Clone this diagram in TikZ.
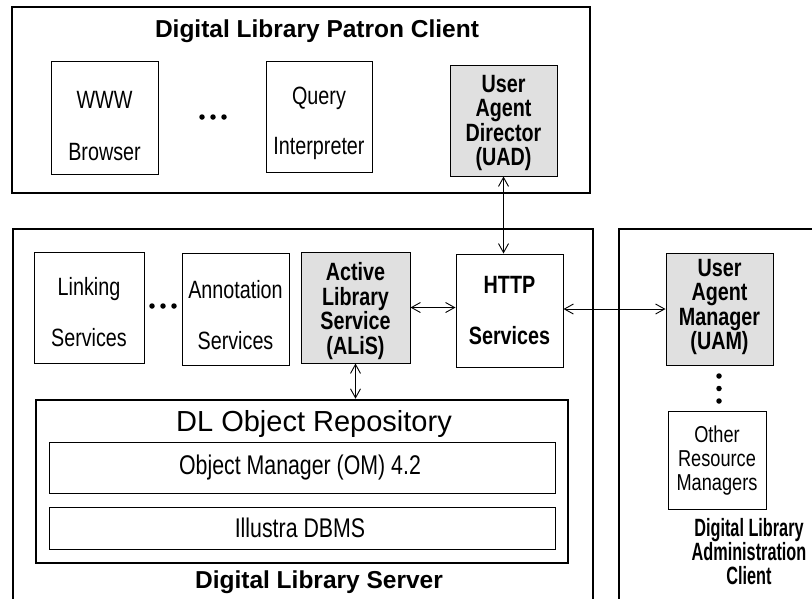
\documentclass[tikz,border=0pt]{standalone}
\usepackage{fontspec}
\setmainfont{Liberation Sans}
\newfontfamily\labfont[FakeStretch=0.79]{Liberation Sans}
\newfontfamily\admfont[FakeStretch=0.65]{Liberation Sans}
\usetikzlibrary{arrows.meta}
\definecolor{boxgray}{gray}{0.88}
\begin{document}
\begin{tikzpicture}[x=1pt,y=-1pt,
  outer/.style={draw, line width=2.6pt, inner sep=0pt},
  box/.style={draw, line width=1pt, inner sep=0pt},
  gbox/.style={box, fill=boxgray},
  txt/.style={inner sep=0pt, align=center, font=\labfont\fontsize{25}{24.5}\selectfont},
  txtb/.style={inner sep=0pt, align=center, font=\labfont\bfseries\fontsize{25}{24.5}\selectfont},
  title/.style={inner sep=0pt, font=\bfseries\fontsize{24.5}{26}\selectfont},
  dot/.style={circle, fill=black, inner sep=0pt, minimum size=5.5pt},
  link/.style={line width=0.9pt, {Straight Barb[length=9pt,width=10pt]}-{Straight Barb[length=9pt,width=10pt]}}
]
\useasboundingbox (0,0) rectangle (812,598);

% outer frames
\node[outer, minimum width=578pt, minimum height=186pt] (patron) at (301,100) {};
\node[outer, minimum width=580pt, minimum height=375pt] (server) at (303,416.5) {};
\node[outer, minimum width=196pt, minimum height=375pt] (admin) at (717,416.5) {};

% patron client
\node[title, anchor=base] (ptitle) at (317,37) {Digital Library Patron Client};
\node[box, minimum width=107pt, minimum height=113pt] (www) at (104.5,117.5) {};
\node[txt] (wwwt) at (104.5,126) {WWW\\[27pt]Browser};
\node[box, minimum width=106pt, minimum height=111pt] (query) at (319,116.5) {};
\node[txt] (queryt) at (319,123.5) {Query\\[26pt]Interpreter};
\node[gbox, minimum width=107pt, minimum height=111pt] (uad) at (503.5,120.5) {};
\node[txtb] (uadt) at (503.5,123) {User\\Agent\\Director\\(UAD)};
\node[dot] (pd1) at (202,117) {};
\node[dot] (pd2) at (213,117) {};
\node[dot] (pd3) at (224,117) {};

% server
\node[box, minimum width=110pt, minimum height=111pt] (linking) at (89,307.5) {};
\node[txt] (linkingt) at (89,312) {Linking\\[26pt]Services};
\node[box, minimum width=107pt, minimum height=112pt] (annot) at (235.5,309) {};
\node[txt] (annott) at (235.5,315) {Annotation\\[26pt]Services};
\node[gbox, minimum width=109pt, minimum height=111pt] (alis) at (355.5,307.5) {};
\node[txtb] (alist) at (355.5,311) {Active\\Library\\Service\\(ALiS)};
\node[box, minimum width=107pt, minimum height=113pt] (http) at (509.5,310.5) {};
\node[txtb] (httpt) at (509.5,310.5) {HTTP\\[26pt]Services};
\node[dot] (sd1) at (152,306) {};
\node[dot] (sd2) at (163,306) {};
\node[dot] (sd3) at (174,306) {};

\node[outer, minimum width=532pt, minimum height=163pt] (repo) at (302,481.5) {};
\node[anchor=base, inner sep=0pt, font=\fontsize{29}{30}\selectfont] (repotitle) at (314,431) {DL Object Repository};
\node[box, minimum width=506pt, minimum height=51pt] (om) at (302,467.5) {};
\node[txt, font=\labfont\fontsize{27}{27}\selectfont] (omt) at (300,467.5) {Object Manager (OM) 4.2};
\node[box, minimum width=506pt, minimum height=42pt] (dbms) at (302,528) {};
\node[txt, font=\labfont\fontsize{27}{27}\selectfont] (dbmst) at (300,528) {Illustra DBMS};
\node[title, anchor=base] (stitle) at (319,588) {Digital Library Server};

% admin client
\node[gbox, minimum width=107pt, minimum height=112pt] (uam) at (719.5,309) {};
\node[txtb] (uamt) at (719.5,307) {User\\Agent\\Manager\\(UAM)};
\node[dot] (ad1) at (719,376) {};
\node[dot] (ad2) at (719,388.5) {};
\node[dot] (ad3) at (719,401) {};
\node[box, minimum width=98pt, minimum height=98pt] (other) at (717,460) {};
\node[txt, font=\labfont\fontsize{23}{24}\selectfont] (othert) at (717,461) {Other\\Resource\\Managers};
\node[align=center, inner sep=0pt, font=\admfont\bfseries\fontsize{25}{24}\selectfont] (atitle) at (749,552) {Digital Library\\Administration\\Client};

% connectors
\draw[link] (uad.south) -- (uad.south |- http.north);
\draw[link] (alis.east) -- (alis.east -| http.west);
\draw[link] (http.east |- uam.west) -- (uam.west);
\draw[link] (alis.south) -- (alis.south |- repo.north);
\end{tikzpicture}
\end{document}
